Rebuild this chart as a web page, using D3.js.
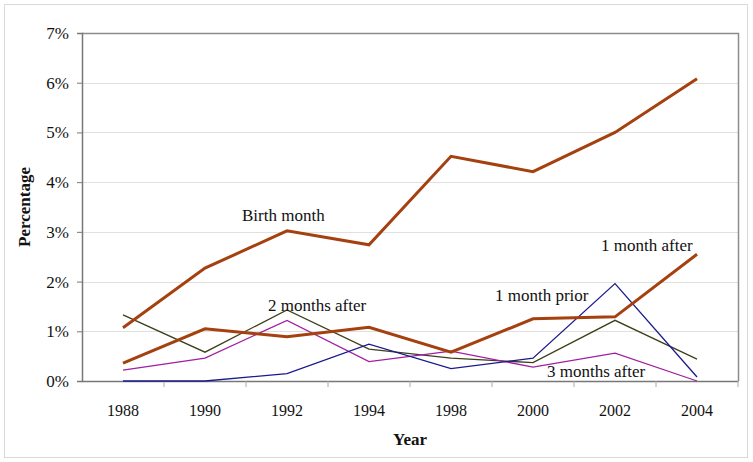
<!DOCTYPE html>
<html><head><meta charset="utf-8">
<script src="https://cdn.jsdelivr.net/npm/d3@7"></script>
<style>body{margin:0;background:#fff}svg{display:block}</style>
</head><body>
<svg id="c" width="753" height="462"></svg>
<script>
const years = ["1988","1990","1992","1994","1998","2000","2002","2004"];
const birthMonth   = [1.07, 2.27, 3.02, 2.74, 4.52, 4.21, 5.00, 6.08];
const oneAfter     = [0.36, 1.05, 0.89, 1.08, 0.58, 1.25, 1.29, 2.55];
const twoAfter     = [1.33, 0.58, 1.43, 0.64, 0.46, 0.37, 1.22, 0.44];
const threeAfter   = [0.22, 0.46, 1.22, 0.39, 0.60, 0.28, 0.56, 0.00];
const onePrior     = [0.00, 0.00, 0.15, 0.74, 0.25, 0.46, 1.96, 0.08];
const yTicks = [0,1,2,3,4,5,6,7];

const series = [
  {name:"2 months after", values:twoAfter,   color:"#3f3f1a", width:1.3},
  {name:"3 months after", values:threeAfter, color:"#a01fa0", width:1.3},
  {name:"1 month prior",  values:onePrior,   color:"#1a1a8c", width:1.3},
  {name:"1 month after",  values:oneAfter,   color:"#a5400f", width:3},
  {name:"Birth month",    values:birthMonth, color:"#a5400f", width:3}
];
const labels = [
  {text:"Birth month",    x:242, y:221},
  {text:"2 months after", x:268, y:311},
  {text:"1 month after",  x:601, y:251},
  {text:"1 month prior",  x:495, y:301},
  {text:"3 months after", x:547, y:377}
];

const svg = d3.select("#c");
const L=82, R=738, T=33, B=381;
const font = "'Liberation Serif','Times New Roman',serif";

svg.append("rect").attr("x",4.5).attr("y",4.5).attr("width",743).attr("height",453)
  .attr("fill","#fff").attr("stroke","#d9d9d9").attr("stroke-width",1);

const x = d3.scaleBand().domain(years).range([L,R]);
const y = d3.scaleLinear().domain([0,7]).range([B,T]);

// gridlines
svg.append("g").selectAll("line").data(yTicks.filter(d=>d>0&&d<7)).join("line")
  .attr("x1",L).attr("x2",R).attr("y1",d=>Math.round(y(d))+0.5).attr("y2",d=>Math.round(y(d))+0.5)
  .attr("stroke","#e0e0e0").attr("stroke-width",1);

// plot frame (top, right)
svg.append("path").attr("d",`M${L},${T+0.5}H${R+0.5}V${B}`)
  .attr("fill","none").attr("stroke","#8c8c8c").attr("stroke-width",1.5);

// y axis
const yAxis = svg.append("g").attr("transform",`translate(${L},0)`)
  .call(d3.axisLeft(y).tickValues(yTicks).tickFormat(d=>d+"%").tickSize(5).tickPadding(8));
yAxis.select(".domain").attr("stroke","#777").attr("stroke-width",1.5);
yAxis.selectAll(".tick line").attr("stroke","#777");
yAxis.selectAll("text").attr("font-family",font).attr("font-size",17).attr("fill","#111");

// x axis
const xAxis = svg.append("g").attr("transform",`translate(0,${B})`)
  .call(d3.axisBottom(x).tickSize(0).tickPadding(24));
xAxis.select(".domain").attr("stroke","#777").attr("stroke-width",1.5);
xAxis.selectAll("text").attr("font-family",font).attr("font-size",16).attr("fill","#111");
// tick marks at category boundaries
svg.append("g").selectAll("line").data(years.slice(1).concat(["__end"])).join("line")
  .attr("x1",d=>d==="__end"?R:x(d)).attr("x2",d=>d==="__end"?R:x(d))
  .attr("y1",B).attr("y2",B+6).attr("stroke","#aaa").attr("stroke-width",1);

// lines
const line = d3.line().x((d,i)=>x(years[i])+x.bandwidth()/2).y(d=>y(d));
svg.append("g").selectAll("path").data(series).join("path")
  .attr("d",d=>line(d.values)).attr("fill","none")
  .attr("stroke",d=>d.color).attr("stroke-width",d=>d.width)
  .attr("stroke-linejoin","miter");

// labels
svg.append("g").selectAll("text").data(labels).join("text")
  .attr("x",d=>d.x).attr("y",d=>d.y).text(d=>d.text)
  .attr("font-family",font).attr("font-size",17).attr("fill","#111");

// axis titles
svg.append("text").attr("transform",`translate(30,${(T+B)/2}) rotate(-90)`)
  .attr("text-anchor","middle").attr("font-family",font).attr("font-size",17)
  .attr("font-weight","bold").attr("fill","#111").text("Percentage");
svg.append("text").attr("x",(L+R)/2).attr("y",445)
  .attr("text-anchor","middle").attr("font-family",font).attr("font-size",17)
  .attr("font-weight","bold").attr("fill","#111").text("Year");
</script>
</body></html>
